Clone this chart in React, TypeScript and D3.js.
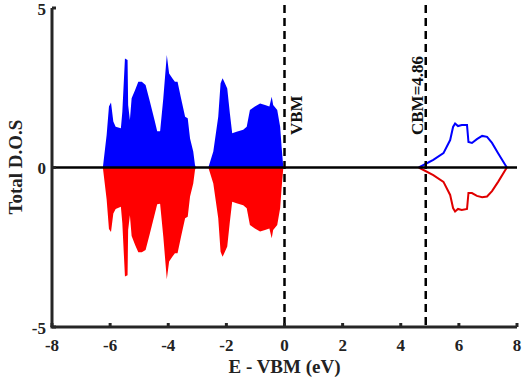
import React from "react";
import { scaleLinear, area, line } from "d3";

// valence band (filled), energies in eV relative to VBM
const vbEnergy = [
  -6.25, -6.12, -6.04, -5.97, -5.89, -5.81, -5.63, -5.58, -5.49, -5.4, -5.38,
  -5.32, -5.26, -5.14, -5.03, -4.91, -4.78, -4.63, -4.46, -4.38, -4.28, -4.17,
  -4.05, -3.97, -3.86, -3.77, -3.68, -3.56, -3.42, -3.33, -3.25, -3.14, -3.08,
  -3.05, -2.62, -2.45, -2.28, -2.2, -2.13, -2.05, -1.97, -1.88, -1.8, -1.65,
  -1.42, -1.3, -1.19, -1.02, -0.84, -0.67, -0.52, -0.44, -0.39, -0.25, -0.15,
  -0.1, -0.04,
];
const vbSpinUp = [
  0, 1.02, 1.91, 2.04, 1.44, 1.28, 1.23, 1.75, 3.42, 3.37, 1.96, 1.49, 2.17,
  2.43, 2.69, 2.69, 2.59, 2.06, 1.44, 1.14, 1.14, 2.17, 3.53, 2.95, 2.8, 2.69,
  2.69, 2.17, 1.59, 1.54, 0.91, 0.5, 0.08, 0, 0, 0.5, 1.59, 2.64, 2.8, 2.64,
  2.48, 1.7, 1.07, 1.12, 1.18, 1.28, 1.8, 1.91, 2.01, 1.96, 1.91, 2.22, 1.96,
  1.8, 1.28, 0.65, 0,
];
const vbSpinDown = [
  0, -1.0, -1.93, -2.02, -1.44, -1.3, -1.23, -1.75, -3.42, -3.38, -1.96, -1.5,
  -2.15, -2.43, -2.66, -2.66, -2.59, -2.06, -1.44, -1.15, -1.14, -2.17, -3.5,
  -2.95, -2.8, -2.69, -2.69, -2.17, -1.59, -1.54, -0.91, -0.5, -0.08, 0, 0,
  -0.5, -1.59, -2.64, -2.8, -2.64, -2.48, -1.7, -1.07, -1.12, -1.18, -1.28,
  -1.8, -1.91, -2.01, -1.96, -1.91, -2.22, -1.96, -1.8, -1.28, -0.65, 0,
];

// conduction band (lines)
const cbEnergy = [
  4.62, 5.12, 5.47, 5.7, 5.8, 5.87, 5.97, 6.1, 6.28, 6.33, 6.45, 6.62, 6.8,
  6.97, 7.14, 7.35, 7.65,
];
const cbSpinUp = [
  0, 0.24, 0.45, 0.86, 1.27, 1.38, 1.3, 1.33, 1.33, 0.8, 0.77, 0.89, 0.99,
  0.96, 0.77, 0.45, 0,
];
const cbSpinDown = [
  0, -0.24, -0.45, -0.86, -1.27, -1.38, -1.3, -1.33, -1.3, -0.8, -0.8, -0.89,
  -0.93, -0.91, -0.74, -0.45, 0,
];

const xTicks = [-8, -6, -4, -2, 0, 2, 4, 6, 8];
const yTicks = [-5, 0, 5];
const vbm = 0;
const cbm = 4.86;

const font = "'Liberation Serif', 'Times New Roman', serif";
const axisColor = "#262626";

export default function App() {
  const x = scaleLinear().domain([-8, 8]).range([52, 517]);
  const y = scaleLinear().domain([-5, 5]).range([327, 8]);

  const fillArea = area<number>()
    .x((_, i) => x(vbEnergy[i]))
    .y0(y(0))
    .y1((d) => y(d));
  const cbLine = line<number>()
    .x((_, i) => x(cbEnergy[i]))
    .y((d) => y(d));

  return (
    <svg
      width={530}
      height={378}
      style={{ position: "absolute", left: 0, top: 0, background: "#fff" }}
      fontFamily={font}
      fontWeight="bold"
    >
      {/* valence band fill */}
      <path d={fillArea(vbSpinUp) || ""} fill="#0000ff" />
      <path d={fillArea(vbSpinDown) || ""} fill="#ff0000" />

      {/* conduction band */}
      <path d={cbLine(cbSpinUp) || ""} fill="none" stroke="#0000ff" strokeWidth={2} />
      <path d={cbLine(cbSpinDown) || ""} fill="none" stroke="#e00000" strokeWidth={2} />

      {/* zero line */}
      <line x1={x(-8)} x2={x(8)} y1={y(0)} y2={y(0)} stroke="#000" strokeWidth={2.5} />

      {/* VBM / CBM markers */}
      {[vbm, cbm].map((v) => (
        <line
          key={v}
          x1={x(v)}
          x2={x(v)}
          y1={5}
          y2={y(-5)}
          stroke="#000"
          strokeWidth={2.5}
          strokeDasharray="8,5"
        />
      ))}
      <text
        transform={`translate(${x(vbm) + 17},135) rotate(-90)`}
        fontSize={17}
        fill="#111"
      >
        VBM
      </text>
      <text
        transform={`translate(${x(cbm) - 2.5},135) rotate(-90)`}
        fontSize={17}
        fill="#111"
      >
        CBM=4.86
      </text>

      {/* axes */}
      <line x1={x(-8)} x2={x(-8)} y1={y(5)} y2={y(-5)} stroke={axisColor} strokeWidth={3} />
      <line x1={x(-8) - 1.5} x2={x(8)} y1={y(-5)} y2={y(-5)} stroke={axisColor} strokeWidth={3} />
      {xTicks.map((t) => (
        <g key={t}>
          <line x1={x(t)} x2={x(t)} y1={y(-5)} y2={y(-5) - 4} stroke={axisColor} strokeWidth={3} />
          <text x={x(t)} y={351} textAnchor="middle" fontSize={17} fill="#222">
            {t}
          </text>
        </g>
      ))}
      {yTicks.map((t) => (
        <g key={t}>
          <line x1={x(-8)} x2={x(-8) + 4} y1={y(t)} y2={y(t)} stroke={axisColor} strokeWidth={3} />
          <text x={46} y={y(t) + 6.5} textAnchor="end" fontSize={17} fill="#222">
            {t}
          </text>
        </g>
      ))}

      {/* axis titles */}
      <text x={284.5} y={373} textAnchor="middle" fontSize={19} fill="#222">
        E - VBM (eV)
      </text>
      <text
        transform="translate(22,167) rotate(-90)"
        textAnchor="middle"
        fontSize={19}
        fill="#222"
      >
        Total D.O.S
      </text>
    </svg>
  );
}
